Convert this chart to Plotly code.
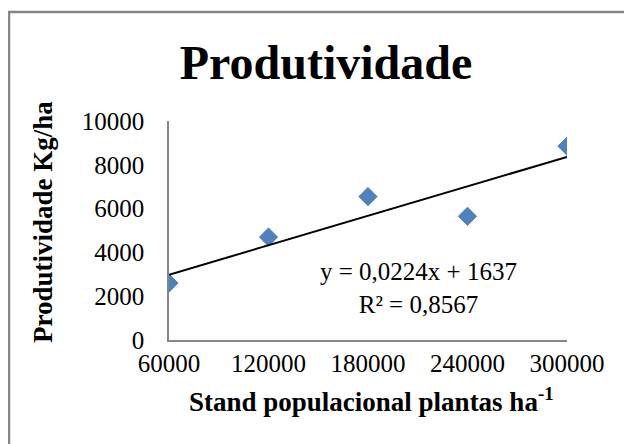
import numpy as np
import plotly.graph_objects as go

# Data
stand = [60000, 120000, 180000, 240000, 300000]
produtividade = [2600, 4700, 6550, 5650, 8850]
x_ticks = [60000, 120000, 180000, 240000, 300000]
y_ticks = [0, 2000, 4000, 6000, 8000, 10000]
title_text = "Produtividade"
x_title = "Stand populacional plantas ha<sup>-1</sup>"
y_title = "Produtividade Kg/ha"
eq_text = "y = 0,0224x + 1637<br>R² = 0,8567"

# Trend line from a linear fit of the data
coef = np.polyfit(stand, produtividade, 1)
trend_x = [min(stand), max(stand)]
trend_y = list(np.polyval(coef, trend_x))

FONT = "Liberation Serif, Times New Roman, serif"
OFF = 8  # page body margin offset
W, H = 632 - OFF, 444 - OFF
L, R, T, B = 169 - OFF, 65, 121 - OFF, 112 - OFF
pw, ph = W - L - R, H - T - B


def px_x(x):
    return (x - OFF - L) / pw


def px_y(y):
    return (T + ph - (y - OFF)) / ph


fig = go.Figure()
fig.add_trace(go.Scatter(
    x=stand, y=produtividade, mode="markers",
    marker=dict(symbol="diamond", size=14, color="#4F81BD",
                line=dict(color="#4A7EBB", width=1)),
    showlegend=False, hoverinfo="x+y"))
fig.add_trace(go.Scatter(
    x=trend_x, y=trend_y, mode="lines",
    line=dict(color="black", width=2), showlegend=False, hoverinfo="skip"))

fig.update_layout(
    width=W, height=H,
    margin=dict(l=L, r=R, t=T, b=B),
    paper_bgcolor="white", plot_bgcolor="white",
    font=dict(family=FONT, color="black", size=25),
    title=dict(text="<b>" + title_text + "</b>", x=(326 - OFF) / W, xanchor="center",
               y=1 - (62 - OFF) / H, yanchor="middle", yref="container",
               font=dict(family=FONT, size=48, color="black")),
    xaxis=dict(range=[60000, 300000], tickvals=x_ticks,
               ticktext=[str(v) for v in x_ticks],
               showgrid=False, zeroline=False, showline=True,
               linecolor="#868686", linewidth=1.5, ticks="",
               ticklabelstandoff=0,
               tickfont=dict(family=FONT, size=25, color="black")),
    yaxis=dict(range=[0, 10000], tickvals=y_ticks,
               ticktext=[str(v) for v in y_ticks],
               showgrid=False, zeroline=False, showline=True,
               linecolor="#868686", linewidth=1.5, ticks="",
               ticklabelstandoff=18,
               tickfont=dict(family=FONT, size=25, color="black")),
    annotations=[
        dict(text="<b>" + x_title + "</b>", xref="paper", yref="paper",
             x=px_x(371), y=px_y(400),
             xanchor="center", yanchor="middle", showarrow=False,
             font=dict(family=FONT, size=27, color="black")),
        dict(text="<b>" + y_title + "</b>", xref="paper", yref="paper",
             x=px_x(43), y=px_y(222), textangle=-90,
             xanchor="center", yanchor="middle", showarrow=False,
             font=dict(family=FONT, size=27, color="black")),
        dict(text=eq_text, xref="paper", yref="paper",
             x=px_x(418), y=px_y(288),
             xanchor="center", yanchor="middle", align="center",
             showarrow=False,
             font=dict(family=FONT, size=25, color="black")),
    ],
    shapes=[dict(type="rect", xref="paper", yref="paper",
                 x0=px_x(9), x1=px_x(660),
                 y0=px_y(470), y1=px_y(12),
                 line=dict(color="#868686", width=2.5),
                 fillcolor="rgba(0,0,0,0)", layer="below")],
)

fig.write_html("out.html")
